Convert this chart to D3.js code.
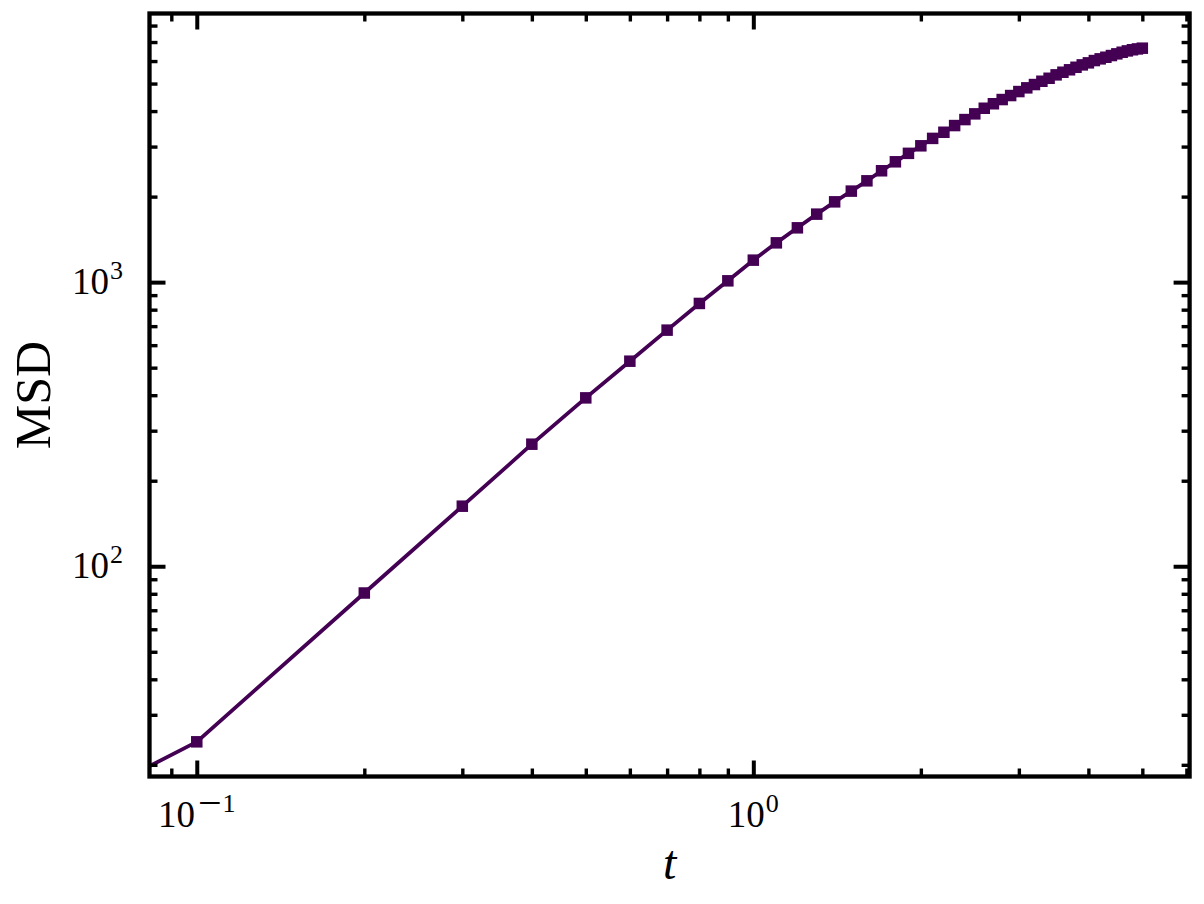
<!DOCTYPE html>
<html><head><meta charset="utf-8">
<script src="https://cdn.jsdelivr.net/npm/d3@7"></script>
<style>body{margin:0;background:#fff} svg{display:block}</style>
</head><body>
<script>
// ---- data ----
const times = [0, 0.1, 0.2, 0.3, 0.4, 0.5, 0.6, 0.7, 0.8, 0.9, 1.0,
  1.1, 1.2, 1.3, 1.4, 1.5, 1.6, 1.7, 1.8, 1.9, 2.0,
  2.1, 2.2, 2.3, 2.4, 2.5, 2.6, 2.7, 2.8, 2.9, 3.0,
  3.1, 3.2, 3.3, 3.4, 3.5, 3.6, 3.7, 3.8, 3.9, 4.0,
  4.1, 4.2, 4.3, 4.4, 4.5, 4.6, 4.7, 4.8, 4.9, 5.0];
const msd = [0, 24.1, 80.5, 162.7, 268.9, 391.4, 526.9, 677.7, 841.4, 1010.7, 1195,
  1375, 1553, 1735, 1917, 2091, 2273, 2466, 2652, 2840, 3019,
  3206, 3369, 3557, 3734, 3911, 4093, 4245, 4392, 4537, 4686,
  4829, 4960, 5094, 5219, 5365, 5480, 5590, 5705, 5817, 5913,
  6024, 6108, 6188, 6274, 6361, 6444, 6515, 6575, 6620, 6660];
const xTickLabels = [{v: 0.1, base: "10", sign: "\u2212", exp: "1"}, {v: 1, base: "10", sign: "", exp: "0"}];
const yTickLabels = [{v: 100, base: "10", sign: "", exp: "2"}, {v: 1000, base: "10", sign: "", exp: "3"}];
const xLabel = "t";
const yLabel = "MSD";

// ---- layout ----
const W = 1204, H = 904;
const L = 149.5, R = 1189.6, T = 13.5, B = 776.5;
const color = "#440154";
const FONT = "'Liberation Serif', 'Times New Roman', serif";

function logPadDomain(vals) {
  const pos = vals.filter(v => v > 0);
  const lo = Math.log10(d3.min(pos)), hi = Math.log10(d3.max(pos));
  const p = (hi - lo) * 0.05;
  return [Math.pow(10, lo - p), Math.pow(10, hi + p)];
}
const x = d3.scaleLog().domain(logPadDomain(times)).range([L, R]);
const y = d3.scaleLog().domain(logPadDomain(msd)).range([B, T]);
const clipv = v => v > 0 ? v : 1e-300;

function logTicks(scale) {
  const [a, b] = scale.domain();
  const major = [], minor = [];
  for (let e = Math.floor(Math.log10(a)) - 1; e <= Math.ceil(Math.log10(b)); e++) {
    for (let m = 1; m <= 9; m++) {
      const v = m * Math.pow(10, e);
      if (v >= a * 0.9999 && v <= b * 1.0001) (m === 1 ? major : minor).push(v);
    }
  }
  return {major, minor};
}

const svg = d3.select("body").append("svg").attr("width", W).attr("height", H);
svg.append("rect").attr("width", W).attr("height", H).attr("fill", "#fff");

svg.append("clipPath").attr("id", "clip").append("rect")
  .attr("x", L).attr("y", T).attr("width", R - L).attr("height", B - T);

const plot = svg.append("g").attr("clip-path", "url(#clip)");
const pts = times.map((t, i) => [t, msd[i]]);
plot.append("path").datum(pts)
  .attr("fill", "none").attr("stroke", color).attr("stroke-width", 3.8)
  .attr("stroke-linejoin", "round")
  .attr("d", d3.line().x(d => x(clipv(d[0]))).y(d => y(clipv(d[1]))));
const ms = 11.5;
plot.selectAll("rect.m").data(pts).join("rect").attr("class", "m")
  .attr("x", d => x(clipv(d[0])) - ms / 2).attr("y", d => y(clipv(d[1])) - ms / 2)
  .attr("width", ms).attr("height", ms).attr("fill", color);

// ---- ticks (inward, all sides) ----
const xt = logTicks(x), yt = logTicks(y);
function addAxis(axisFn, scale, vals, size, width, transform) {
  const g = svg.append("g").attr("transform", transform)
    .call(axisFn(scale).tickValues(vals).tickSize(-size).tickFormat(""));
  g.select(".domain").remove();
  g.selectAll(".tick line").attr("stroke", "#000").attr("stroke-width", width);
}
const MAJ = 16, MIN = 8, MAJW = 4, MINW = 3.4;
addAxis(d3.axisBottom, x, xt.major, MAJ, MAJW, `translate(0,${B})`);
addAxis(d3.axisBottom, x, xt.minor, MIN, MINW, `translate(0,${B})`);
addAxis(d3.axisTop, x, xt.major, MAJ, MAJW, `translate(0,${T})`);
addAxis(d3.axisTop, x, xt.minor, MIN, MINW, `translate(0,${T})`);
addAxis(d3.axisLeft, y, yt.major, MAJ, MAJW, `translate(${L},0)`);
addAxis(d3.axisLeft, y, yt.minor, MIN, MINW, `translate(${L},0)`);
addAxis(d3.axisRight, y, yt.major, MAJ, MAJW, `translate(${R},0)`);
addAxis(d3.axisRight, y, yt.minor, MIN, MINW, `translate(${R},0)`);

// frame
svg.append("rect").attr("x", L).attr("y", T).attr("width", R - L).attr("height", B - T)
  .attr("fill", "none").attr("stroke", "#000").attr("stroke-width", 4.3);

// ---- tick labels ----
const TF = 37, SF = 26, SUP = 15;
function powLabel(t, d) {
  t.append("tspan").text(d.base);
  if (d.sign) {
    t.append("tspan").attr("dy", -SUP + 5).attr("dx", 3).attr("font-size", 42).text(d.sign);
    t.append("tspan").attr("dy", -5).attr("dx", 1).attr("font-size", SF).text(d.exp);
  } else {
    t.append("tspan").attr("dy", -SUP).attr("dx", 1).attr("font-size", SF).text(d.exp);
  }
}
xTickLabels.forEach(d => {
  const t = svg.append("text").attr("x", x(d.v)).attr("y", 827)
    .attr("text-anchor", "middle").attr("font-family", FONT).attr("font-size", TF).attr("fill", "#000");
  powLabel(t, d);
});
yTickLabels.forEach(d => {
  const t = svg.append("text").attr("x", 123).attr("y", y(d.v) + 12)
    .attr("text-anchor", "end").attr("font-family", FONT).attr("font-size", TF).attr("fill", "#000");
  powLabel(t, d);
});

// ---- axis labels ----
svg.append("text").attr("x", (L + R) / 2).attr("y", 879).attr("text-anchor", "middle")
  .attr("font-family", FONT).attr("font-style", "italic").attr("font-size", 48).attr("fill", "#000")
  .text(xLabel);
svg.append("text").attr("transform", `translate(50,${(T + B) / 2}) rotate(-90)`)
  .attr("text-anchor", "middle").attr("font-family", FONT).attr("font-size", 50).attr("fill", "#000")
  .text(yLabel);
</script>
</body></html>
